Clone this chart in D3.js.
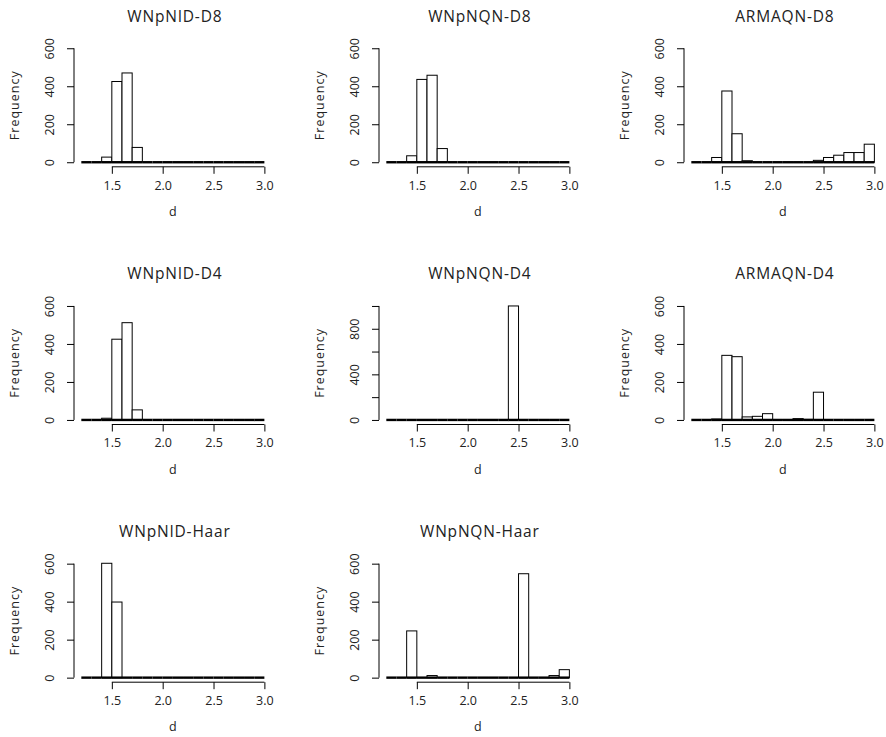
<!DOCTYPE html>
<html>
<head>
<meta charset="utf-8">
<script src="https://cdn.jsdelivr.net/npm/d3@7"></script>
<style>
    body { margin: 0; background: #ffffff; }
    svg text { font-family: "Open Sans", "DejaVu Sans", sans-serif; fill: #222; }
</style>
</head>
<body>
<div id="chart"></div>
<script>
/* Histogram data: 1000 estimates of d per method, binned by 0.1 */
var breaks = [1.2, 1.3, 1.4, 1.5, 1.6, 1.7, 1.8, 1.9, 2.0, 2.1, 2.2, 2.3, 2.4, 2.5, 2.6, 2.7, 2.8, 2.9, 3.0];

var titles = ["WNpNID-D8", "WNpNQN-D8", "ARMAQN-D8",
              "WNpNID-D4", "WNpNQN-D4", "ARMAQN-D4",
              "WNpNID-Haar", "WNpNQN-Haar"];

var countsWNpNID_D8   = [0, 0, 27, 425, 470, 78, 0, 0, 0, 0, 0, 0, 0, 0, 0, 0, 0, 0];
var countsWNpNQN_D8   = [0, 0, 34, 436, 458, 72, 0, 0, 0, 0, 0, 0, 0, 0, 0, 0, 0, 0];
var countsARMAQN_D8   = [0, 0, 25, 375, 150, 8, 0, 0, 0, 0, 0, 0, 10, 25, 37, 51, 51, 95];
var countsWNpNID_D4   = [0, 0, 9, 425, 512, 53, 0, 0, 0, 0, 0, 0, 0, 0, 0, 0, 0, 0];
var countsWNpNQN_D4   = [0, 0, 0, 0, 0, 0, 0, 0, 0, 0, 0, 0, 1000, 0, 0, 0, 0, 0];
var countsARMAQN_D4   = [0, 0, 5, 340, 333, 16, 19, 33, 2, 0, 7, 3, 146, 0, 0, 0, 0, 0];
var countsWNpNID_Haar = [0, 0, 602, 398, 0, 0, 0, 0, 0, 0, 0, 0, 0, 0, 0, 0, 0, 0];
var countsWNpNQN_Haar = [0, 0, 246, 0, 11, 0, 0, 0, 0, 0, 0, 0, 0, 547, 0, 0, 11, 42];

var yMax        = [600, 600, 600, 600, 1000, 600, 600, 600];
var xTicks      = [1.5, 2.0, 2.5, 3.0];
var yTicks600   = [0, 200, 400, 600];
var yTicks1000  = [0, 200, 400, 600, 800, 1000];
var yLabels1000 = [0, 400, 800];

var allCounts = [countsWNpNID_D8, countsWNpNQN_D8, countsARMAQN_D8,
                 countsWNpNID_D4, countsWNpNQN_D4, countsARMAQN_D4,
                 countsWNpNID_Haar, countsWNpNQN_Haar];

/* Layout */
var width   = 886,
    height  = 737,
    colStep = 305,
    rowStep = 257.7,
    plotX0  = 74,
    plotY0  = 43.7,
    plotW   = 197.7,
    plotH   = 123.1;

var svg = d3.select("#chart").append("svg")
    .attr("width", width)
    .attr("height", height);

// R style axis range: 4% padding on each side
function pad(lo, hi) {
    var d = (hi - lo) * 0.04;
    return [lo - d, hi + d];
}

allCounts.forEach(function (counts, i) {
    var col  = i % 3,
        row  = Math.floor(i / 3),
        left = plotX0 + col * colStep,
        top  = plotY0 + row * rowStep;

    var x = d3.scaleLinear().domain(pad(breaks[0], breaks[breaks.length - 1])).range([left, left + plotW]);
    var y = d3.scaleLinear().domain(pad(0, yMax[i])).range([top + plotH, top]);

    var g = svg.append("g");

    var bins = counts.map(function (c, k) { return {x0: breaks[k], x1: breaks[k + 1], n: c}; });

    // Bars
    g.selectAll("rect.bar").data(bins.filter(function (b) { return b.n > 0; }))
        .enter().append("rect")
        .attr("class", "bar")
        .attr("x", function (b) { return x(b.x0); })
        .attr("width", function (b) { return x(b.x1) - x(b.x0); })
        .attr("y", function (b) { return y(b.n); })
        .attr("height", function (b) { return y(0) - y(b.n); })
        .attr("fill", "#ffffff")
        .attr("stroke", "#000")
        .attr("stroke-width", 1);

    // Bar bottoms (empty bins collapse to a heavy line)
    g.selectAll("line.base").data(bins)
        .enter().append("line")
        .attr("class", "base")
        .attr("x1", function (b) { return x(b.x0); })
        .attr("x2", function (b) { return x(b.x1); })
        .attr("y1", y(0))
        .attr("y2", y(0))
        .attr("stroke", "#000")
        .attr("stroke-width", 2.4);

    // X axis
    var xAxis = d3.axisBottom(x).tickValues(xTicks).tickSize(7).tickPadding(7)
        .tickFormat(d3.format(".1f"));
    var xg = g.append("g")
        .attr("transform", "translate(0," + (top + plotH) + ")")
        .call(xAxis);
    xg.select(".domain").attr("d", "M" + x(xTicks[0]) + ",0H" + x(xTicks[xTicks.length - 1]));
    xg.selectAll("text").attr("font-size", 12.5).attr("fill", "#222").attr("font-family", null);

    // Y axis
    var ticks = yMax[i] === 1000 ? yTicks1000 : yTicks600;
    var yAxis = d3.axisLeft(y).tickValues(ticks).tickSize(7).tickFormat(function (v) {
        return (yMax[i] === 1000 && yLabels1000.indexOf(v) < 0) ? "" : v;
    });
    var yg = g.append("g")
        .attr("transform", "translate(" + left + ",0)")
        .call(yAxis);
    yg.select(".domain").attr("d", "M0," + y(ticks[0]) + "V" + y(ticks[ticks.length - 1]));
    yg.selectAll("text")
        .attr("font-size", 12.5).attr("fill", "#222").attr("font-family", null)
        .attr("x", null).attr("dy", null)
        .attr("text-anchor", "middle")
        .attr("transform", "translate(-20.5,0) rotate(-90)");
    yg.selectAll(".tick line, .domain").attr("stroke", "#000");
    xg.selectAll(".tick line, .domain").attr("stroke", "#000");

    // Titles and labels
    g.append("text")
        .attr("x", left + plotW / 2 + 2)
        .attr("y", top - 22)
        .attr("text-anchor", "middle")
        .attr("font-size", 15.5)
        .attr("letter-spacing", 0.8)
        .text(titles[i]);

    g.append("text")
        .attr("x", left + plotW / 2)
        .attr("y", top + plotH + 49)
        .attr("text-anchor", "middle")
        .attr("font-size", 12.5)
        .text("d");

    g.append("text")
        .attr("transform", "translate(" + (left - 55) + "," + (top + plotH / 2) + ") rotate(-90)")
        .attr("text-anchor", "middle")
        .attr("font-size", 12.5)
        .attr("letter-spacing", 1)
        .text("Frequency");
});
</script>
</body>
</html>
